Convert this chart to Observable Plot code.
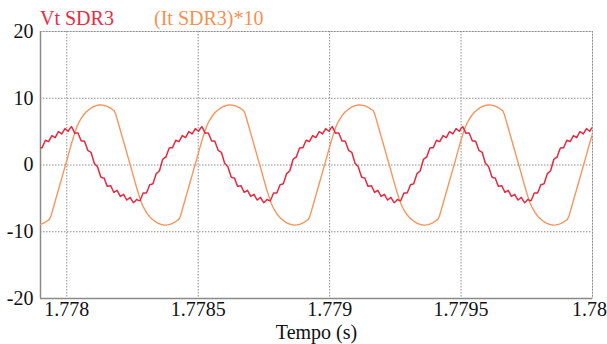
<!DOCTYPE html>
<html><head><meta charset="utf-8">
<script src="https://cdn.jsdelivr.net/npm/d3@7"></script>
<script src="https://cdn.jsdelivr.net/npm/@observablehq/plot@0.6"></script>
<style>
body{margin:0;background:#fff;}
#wrap{position:relative;width:607px;height:344px;font-family:"Times New Roman","Liberation Serif",Tinos,"DejaVu Serif",serif;}
.leg{position:absolute;top:8px;font-size:20px;line-height:20px;white-space:nowrap;}
</style></head><body>
<div id="wrap">
<span class="leg" style="left:40px;color:#ee2a3f">Vt SDR3</span>
<span class="leg" style="left:154px;color:#f8904f">(It SDR3)*10</span>
</div>
<script>
// Time sampling clocks (seconds)
const redStart = 1.7779, redStep = 6.2e-6;
const curStart = 1.7778966, curStep = 6.159e-6;

// Vt SDR3
const vtSDR3 = [
2.6, 2.6, 3.15, 3.7,
3.6, 3.5, 3.95, 4.4, 4.25, 4.1, 4.55, 5.0, 4.85, 4.65,
5.05, 5.45, 5.25, 5.05, 5.45, 5.75, 5.3, 4.75, 4.8, 4.8,
4.2, 3.6, 3.6, 3.55, 2.9, 2.2, 2.05, 1.9, 1.1, 0.25,
0, -0.25, -1.05, -1.8, -1.9, -1.95, -2.6, -3.2, -3.15, -3.1,
-3.6, -4.1, -3.95, -3.8, -4.25, -4.7, -4.55, -4.4, -4.85, -5.25,
-5.05, -4.85, -5.25, -5.65, -5.45, -5.15, -5.3, -5.35, -4.8, -4.2,
-4.2, -4.2, -3.6, -2.95, -2.9, -2.8, -2.05, -1.3, -1.1, -0.85,
0, 0.85, 1.05, 1.2, 1.9, 2.55, 2.6, 2.6, 3.15, 3.7,
3.6, 3.5, 3.95, 4.4, 4.25, 4.1, 4.55, 5.0, 4.85, 4.65,
5.05, 5.45, 5.25, 5.05, 5.45, 5.75, 5.3, 4.75, 4.8, 4.8,
4.2, 3.6, 3.6, 3.55, 2.9, 2.2, 2.05, 1.9, 1.1, 0.25,
0, -0.25, -1.05, -1.8, -1.9, -1.95, -2.6, -3.2, -3.15, -3.1,
-3.6, -4.1, -3.95, -3.8, -4.25, -4.7, -4.55, -4.4, -4.85, -5.25,
-5.05, -4.85, -5.25, -5.65, -5.45, -5.15, -5.3, -5.35, -4.8, -4.2,
-4.2, -4.2, -3.6, -2.95, -2.9, -2.8, -2.05, -1.3, -1.1, -0.85,
0, 0.85, 1.05, 1.2, 1.9, 2.55, 2.6, 2.6, 3.15, 3.7,
3.6, 3.5, 3.95, 4.4, 4.25, 4.1, 4.55, 5.0, 4.85, 4.65,
5.05, 5.45, 5.25, 5.05, 5.45, 5.75, 5.3, 4.75, 4.8, 4.8,
4.2, 3.6, 3.6, 3.55, 2.9, 2.2, 2.05, 1.9, 1.1, 0.25,
0, -0.25, -1.05, -1.8, -1.9, -1.95, -2.6, -3.2, -3.15, -3.1,
-3.6, -4.1, -3.95, -3.8, -4.25, -4.7, -4.55, -4.4, -4.85, -5.25,
-5.05, -4.85, -5.25, -5.65, -5.45, -5.15, -5.3, -5.35, -4.8, -4.2,
-4.2, -4.2, -3.6, -2.95, -2.9, -2.8, -2.05, -1.3, -1.1, -0.85,
0, 0.85, 1.05, 1.2, 1.9, 2.55, 2.6, 2.6, 3.15, 3.7,
3.6, 3.5, 3.95, 4.4, 4.25, 4.1, 4.55, 5.0, 4.85, 4.65,
5.05, 5.45, 5.25, 5.05, 5.45, 5.75, 5.3, 4.75, 4.8, 4.8,
4.2, 3.6, 3.6, 3.55, 2.9, 2.2, 2.05, 1.9, 1.1, 0.25,
0, -0.25, -1.05, -1.8, -1.9, -1.95, -2.6, -3.2, -3.15, -3.1,
-3.6, -4.1, -3.95, -3.8, -4.25, -4.7, -4.55, -4.4, -4.85, -5.25,
-5.05, -4.85, -5.25, -5.65, -5.45, -5.15, -5.3, -5.35, -4.8, -4.2,
-4.2, -4.2, -3.6, -2.95, -2.9, -2.8, -2.05, -1.3, -1.1, -0.85,
0, 0.85, 1.05, 1.2, 1.9, 2.55, 2.6, 2.6, 3.15, 3.7,
3.6, 3.5, 3.95, 4.4, 4.25, 4.1, 4.55, 5.0, 4.85, 4.65,
5.05, 5.45, 5.25, 5.05, 5.45, 5.75
];

// (It SDR3)*10
const itSDR3x10 = [
-8.92, -8.85, -8.75, -8.62, -8.48, -8.32, -8.15, -7.65, -6.8, -5.95, -5.1, -4.25, -3.4, -2.55, -1.7, -0.85,
0, 0.85, 1.75, 2.6, 3.45, 4.25, 5.0, 5.7, 6.25, 6.7, 7.1, 7.45, 7.75, 8.0, 8.2, 8.4, 8.55, 8.7, 8.8, 8.9,
8.95, 9.0, 9.0, 8.97, 8.92, 8.85, 8.75, 8.62, 8.48, 8.32, 8.15, 7.65, 6.8, 5.95, 5.1, 4.25, 3.4, 2.55, 1.7, 0.85,
0, -0.85, -1.75, -2.6, -3.45, -4.25, -5.0, -5.7, -6.25, -6.7, -7.1, -7.45, -7.75, -8.0, -8.2, -8.4, -8.55, -8.7, -8.8, -8.9,
-8.95, -9.0, -9.0, -8.97, -8.92, -8.85, -8.75, -8.62, -8.48, -8.32, -8.15, -7.65, -6.8, -5.95, -5.1, -4.25, -3.4, -2.55, -1.7, -0.85,
0, 0.85, 1.75, 2.6, 3.45, 4.25, 5.0, 5.7, 6.25, 6.7, 7.1, 7.45, 7.75, 8.0, 8.2, 8.4, 8.55, 8.7, 8.8, 8.9,
8.95, 9.0, 9.0, 8.97, 8.92, 8.85, 8.75, 8.62, 8.48, 8.32, 8.15, 7.65, 6.8, 5.95, 5.1, 4.25, 3.4, 2.55, 1.7, 0.85,
0, -0.85, -1.75, -2.6, -3.45, -4.25, -5.0, -5.7, -6.25, -6.7, -7.1, -7.45, -7.75, -8.0, -8.2, -8.4, -8.55, -8.7, -8.8, -8.9,
-8.95, -9.0, -9.0, -8.97, -8.92, -8.85, -8.75, -8.62, -8.48, -8.32, -8.15, -7.65, -6.8, -5.95, -5.1, -4.25, -3.4, -2.55, -1.7, -0.85,
0, 0.85, 1.75, 2.6, 3.45, 4.25, 5.0, 5.7, 6.25, 6.7, 7.1, 7.45, 7.75, 8.0, 8.2, 8.4, 8.55, 8.7, 8.8, 8.9,
8.95, 9.0, 9.0, 8.97, 8.92, 8.85, 8.75, 8.62, 8.48, 8.32, 8.15, 7.65, 6.8, 5.95, 5.1, 4.25, 3.4, 2.55, 1.7, 0.85,
0, -0.85, -1.75, -2.6, -3.45, -4.25, -5.0, -5.7, -6.25, -6.7, -7.1, -7.45, -7.75, -8.0, -8.2, -8.4, -8.55, -8.7, -8.8, -8.9,
-8.95, -9.0, -9.0, -8.97, -8.92, -8.85, -8.75, -8.62, -8.48, -8.32, -8.15, -7.65, -6.8, -5.95, -5.1, -4.25, -3.4, -2.55, -1.7, -0.85,
0, 0.85, 1.75, 2.6, 3.45, 4.25, 5.0, 5.7, 6.25, 6.7, 7.1, 7.45, 7.75, 8.0, 8.2, 8.4, 8.55, 8.7, 8.8, 8.9,
8.95, 9.0, 9.0, 8.97, 8.92, 8.85, 8.75, 8.62, 8.48, 8.32, 8.15, 7.65, 6.8, 5.95, 5.1, 4.25, 3.4, 2.55, 1.7, 0.85,
0, -0.85, -1.75, -2.6, -3.45, -4.25, -5.0, -5.7, -6.25, -6.7, -7.1, -7.45, -7.75, -8.0, -8.2, -8.4, -8.55, -8.7, -8.8, -8.9,
-8.95, -9.0, -9.0, -8.97, -8.92, -8.85, -8.75, -8.62, -8.48, -8.32, -8.15, -7.65, -6.8, -5.95, -5.1, -4.25, -3.4, -2.55, -1.7, -0.85,
0, 0.85, 1.75, 2.6, 3.45, 4.25, 5.0
];

const xTicks = [1.778, 1.7785, 1.779, 1.7795, 1.78];
const yTicks = [-20, -10, 0, 10, 20];
const xDomain = [1.7779, 1.78];
const yDomain = [-20, 20];

const redData = vtSDR3.map((v, i) => ({t: redStart + i * redStep, v}));
const curData = itSDR3x10.map((v, i) => ({t: curStart + i * curStep, v}));

const serif = "'Times New Roman', 'Liberation Serif', Tinos, 'DejaVu Serif', serif";

const chart = Plot.plot({
  width: 607,
  height: 344,
  marginTop: 31,
  marginBottom: 46,
  marginLeft: 40,
  marginRight: 15,
  style: {fontFamily: serif, fontSize: "20px", color: "#111", background: "transparent", overflow: "visible"},
  x: {domain: xDomain},
  y: {domain: yDomain},
  marks: [
    Plot.frame({stroke: "#cfcfcf"}),
    Plot.gridX(xTicks, {stroke: "#8c8c8c", strokeOpacity: 1, strokeDasharray: "1.5,1.5"}),
    Plot.gridY(yTicks.filter(d => d > -20), {stroke: "#8c8c8c", strokeOpacity: 1, strokeDasharray: "1.5,1.5"}),
    Plot.ruleX([xDomain[0]], {stroke: "#8a8a8a", strokeWidth: 1.5}),
    Plot.ruleY([yDomain[0]], {stroke: "#8a8a8a", strokeWidth: 1.5}),
    Plot.axisX(xTicks.slice(0, -1), {tickSize: 0, tickPadding: 3, tickFormat: d => String(d), label: "Tempo (s)", labelAnchor: "center", labelOffset: 40, labelArrow: "none"}),
    Plot.axisX(xTicks.slice(-1), {tickSize: 0, tickPadding: 3, tickFormat: d => String(d), dx: -3, label: null}),
    Plot.axisY(yTicks, {tickSize: 0, tickPadding: 7, tickFormat: d => String(d), label: null}),
    Plot.line(curData, {x: "t", y: "v", stroke: "#f7955c", strokeWidth: 1.4, clip: true}),
    Plot.line(redData, {x: "t", y: "v", stroke: "#e8283e", strokeWidth: 1.5, clip: true})
  ]
});
document.getElementById("wrap").appendChild(chart);
</script>
</body></html>
